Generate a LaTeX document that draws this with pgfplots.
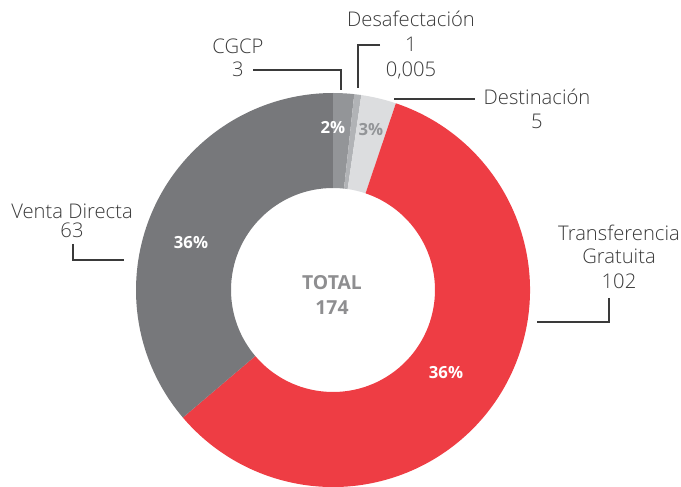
\documentclass[border=0pt]{standalone}
\usepackage{pgfplots}
\pgfplotsset{compat=1.18}
\usepackage{fontspec}
\setmainfont{Open Sans}[UprightFont=* Light, BoldFont=* Bold]

\definecolor{cVenta}{HTML}{77787B}
\definecolor{cCGCP}{HTML}{939598}
\definecolor{cDesaf}{HTML}{B1B3B6}
\definecolor{cDest}{HTML}{DCDDDF}
\definecolor{cTrans}{HTML}{EE3D44}
\definecolor{txt}{HTML}{3A3A3A}
\definecolor{tot}{HTML}{8E8E90}

\def\unitpx{0.02cm}
\def\startang{90}

\begin{document}
\begin{tikzpicture}[lbl/.style={txt, font=\fontsize{11.5}{13}\selectfont, align=center, inner sep=0pt}]
\begin{axis}[
    x=\unitpx, y=\unitpx,
    xmin=0, xmax=681, ymin=0, ymax=487,
    hide axis, clip=false,
]
% donut: center (333,197) in axis units, outer 197, inner 102; total 174
\pgfplotsextra{
  \foreach \v/\col in {3/cCGCP, 1/cDesaf, 5/cDest, 102/cTrans, 63/cVenta}{
    \pgfmathsetmacro\sa{\startang}
    \pgfmathsetmacro\ea{\startang-\v/174*360}
    \fill[\col, overlay] (axis cs:{333+197*cos(\sa)},{197+197*sin(\sa)})
      arc[start angle=\sa, end angle=\ea, radius={197*\unitpx}]
      -- (axis cs:{333+102*cos(\ea)},{197+102*sin(\ea)})
      arc[start angle=\ea, end angle=\sa, radius={102*\unitpx}] -- cycle;
    \xdef\startang{\ea}
  }
}
\path (axis cs:0,0) (axis cs:681,487);

% leader lines
\draw[txt, semithick] (axis cs:253,417) -- (axis cs:341,417) -- (axis cs:341,397);
\draw[txt, semithick] (axis cs:380,442) -- (axis cs:358,442) -- (axis cs:358,399);
\draw[txt, semithick] (axis cs:394,388) -- (axis cs:475,388);
\draw[txt, semithick] (axis cs:73,243) -- (axis cs:73,227) -- (axis cs:124,227);
\draw[txt, semithick] (axis cs:609,189) -- (axis cs:609,165) -- (axis cs:537,165);

% category labels
\node[lbl] at (axis cs:238,429) {CGCP\\3};
\node[lbl] at (axis cs:411,442) {Desafectación\\[1pt]1\\[1pt]0,005};
\node[lbl] at (axis cs:537,378) {Destinación\\[1pt]5};
\node[lbl] at (axis cs:72,266) {Venta Directa\\[-2pt]63};
\node[lbl] at (axis cs:619,230) {Transferencia\\Gratuita\\[1pt]102};

% percentages
\node[white, font=\fontsize{9.5}{11}\selectfont\bfseries] at (axis cs:333,359) {2\%};
\node[cCGCP, font=\fontsize{9.5}{11}\selectfont\bfseries] at (axis cs:371,357) {3\%};
\node[white, font=\fontsize{9.5}{11}\selectfont\bfseries] at (axis cs:191,244) {36\%};
\node[white, font=\fontsize{9.5}{11}\selectfont\bfseries] at (axis cs:446,114) {36\%};

% total
\node[tot, font=\fontsize{11}{13}\selectfont\bfseries, align=center] at (axis cs:332,192) {TOTAL\\[1pt]174};
\end{axis}
\end{tikzpicture}
\end{document}
